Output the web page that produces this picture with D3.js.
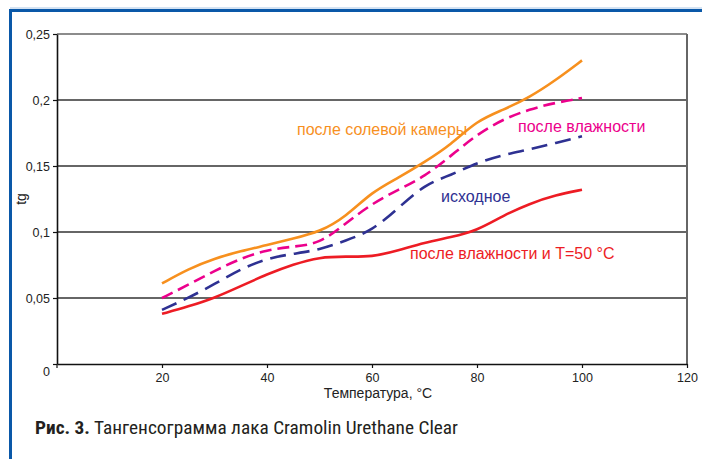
<!DOCTYPE html>
<html><head><meta charset="utf-8">
<script src="https://cdnjs.cloudflare.com/ajax/libs/d3/7.8.5/d3.min.js"></script>
<style>body{margin:0;background:#fff}svg{display:block}</style>
</head><body>
<script>
const temps = [20,25,30,35,40,45,50,55,60,65,70,75,80,85,90,95,100];
const saltChamber = [0.061,0.072,0.080,0.0855,0.090,0.095,0.100,0.1115,0.1305,0.141,0.153,0.166,0.1845,0.1925,0.202,0.215,0.230];
const afterHumidity = [0.050,0.060,0.0705,0.080,0.0865,0.089,0.091,0.1065,0.1215,0.132,0.142,0.1575,0.174,0.1855,0.193,0.198,0.2015];
const initial = [0.041,0.050,0.0605,0.072,0.080,0.0835,0.0865,0.0935,0.101,0.118,0.136,0.143,0.1525,0.1585,0.1625,0.1675,0.1725];
const humidity50 = [0.038,0.0435,0.050,0.059,0.068,0.0755,0.081,0.0815,0.081,0.086,0.092,0.096,0.101,0.1125,0.1215,0.128,0.132];
const xTicks = [0,20,40,60,80,100,120];
const yTicks = [0,0.05,0.1,0.15,0.2,0.25];
const yTickLabels = ["0","0,05","0,1","0,15","0,2","0,25"];
const seriesNames = ["после солевой камеры","после влажности","исходное","после влажности и T=50 °C"];

const FONT="'Liberation Sans', Arial, sans-serif";
const W=702,H=459;
const svg=d3.select("body").append("svg").attr("width",W).attr("height",H);
svg.append("rect").attr("width",W).attr("height",H).attr("fill","#fff");
// frame
svg.append("line").attr("x1",10).attr("x2",W).attr("y1",8).attr("y2",8).attr("stroke","#a9c6e6").attr("stroke-width",1);
svg.append("path").attr("d",`M10.5,${H} V10.5 H${W}`).attr("fill","none").attr("stroke","#0a58a8").attr("stroke-width",3);

const x=d3.scaleLinear().domain([0,120]).range([57,687]);
const y=d3.scaleLinear().domain([0,0.25]).range([364,34]);

// grid
svg.append("g").selectAll("line").data(yTicks.slice(1)).join("line")
  .attr("x1",x(0)).attr("x2",x(120)).attr("y1",d=>y(d)).attr("y2",d=>y(d))
  .attr("stroke",(d)=>d===0.25?"#666":"#333").attr("stroke-width",1.6);
svg.append("line").attr("x1",x(120)).attr("x2",x(120)).attr("y1",y(0.25)).attr("y2",y(0))
  .attr("stroke","#666").attr("stroke-width",2);

// axes
const yAxis=svg.append("g").attr("transform",`translate(${x(0)},0)`)
  .call(d3.axisLeft(y).tickValues(yTicks).tickSize(4).tickSizeOuter(0).tickFormat((d,i)=>yTickLabels[i]));
yAxis.select(".domain").attr("stroke","#111").attr("stroke-width",1.6);
yAxis.selectAll(".tick line").attr("stroke","#111").attr("stroke-width",1.2);
yAxis.selectAll("text").attr("font-family",FONT).attr("font-size",12.5).attr("fill","#222").attr("x",-7)
  .attr("dy",(d)=>d===0?"0.9em":"0.32em");

const xAxis=svg.append("g").attr("transform",`translate(0,${y(0)})`)
  .call(d3.axisBottom(x).tickValues(xTicks.slice(1)).tickSize(4).tickSizeOuter(0));
xAxis.select(".domain").attr("stroke","#111").attr("stroke-width",1.6);
xAxis.selectAll(".tick line").attr("stroke","#111").attr("stroke-width",1.2);
xAxis.selectAll("text").attr("font-family",FONT).attr("font-size",12.5).attr("fill","#222").attr("y",9);
svg.append("line").attr("x1",x(0)).attr("x2",x(0)).attr("y1",y(0)).attr("y2",y(0)+4).attr("stroke","#111").attr("stroke-width",1.2);

svg.append("text").attr("x",378).attr("y",398).attr("text-anchor","middle")
  .attr("font-family",FONT).attr("font-size",14).attr("fill","#222").text("Температура, °С");
svg.append("text").attr("transform","translate(26,199) rotate(-90)").attr("text-anchor","middle")
  .attr("font-family",FONT).attr("font-size",14).attr("fill","#222").text("tg");

// lines
const series=[
 {vals:saltChamber,color:"#f7901e",dash:null},
 {vals:afterHumidity,color:"#ec008c",dash:"12,6"},
 {vals:initial,color:"#2e3192",dash:"16,8"},
 {vals:humidity50,color:"#ed1c24",dash:null}
];
const line=d3.line().x(d=>x(d[0])).y(d=>y(d[1])).curve(d3.curveBasis);
svg.append("g").selectAll("path").data(series).join("path")
  .attr("d",s=>line(temps.map((t,i)=>[t,s.vals[i]])))
  .attr("fill","none").attr("stroke",s=>s.color).attr("stroke-width",2.6)
  .attr("stroke-dasharray",s=>s.dash);

// labels
const labels=[
 {t:seriesNames[0],x:297,y:135,c:"#f7901e"},
 {t:seriesNames[1],x:518,y:132,c:"#ec008c"},
 {t:seriesNames[2],x:441,y:202,c:"#2e3192"},
 {t:seriesNames[3],x:410,y:259,c:"#ed1c24"}
];
svg.append("g").selectAll("text").data(labels).join("text")
  .attr("x",d=>d.x).attr("y",d=>d.y).attr("fill",d=>d.c)
  .attr("font-family",FONT).attr("font-size",16).text(d=>d.t);

// caption
const cap=svg.append("text").attr("x",35).attr("y",434).attr("fill","#231f20")
  .attr("font-family","'Roboto Condensed', 'Liberation Sans Narrow', Roboto, sans-serif").attr("font-size",17.5)
  .attr("textLength",423).attr("lengthAdjust","spacingAndGlyphs");
cap.append("tspan").attr("font-weight","bold").text("Рис. 3.");
cap.append("tspan").text(" Тангенсограмма лака Cramolin Urethane Clear");
</script>
</body></html>
